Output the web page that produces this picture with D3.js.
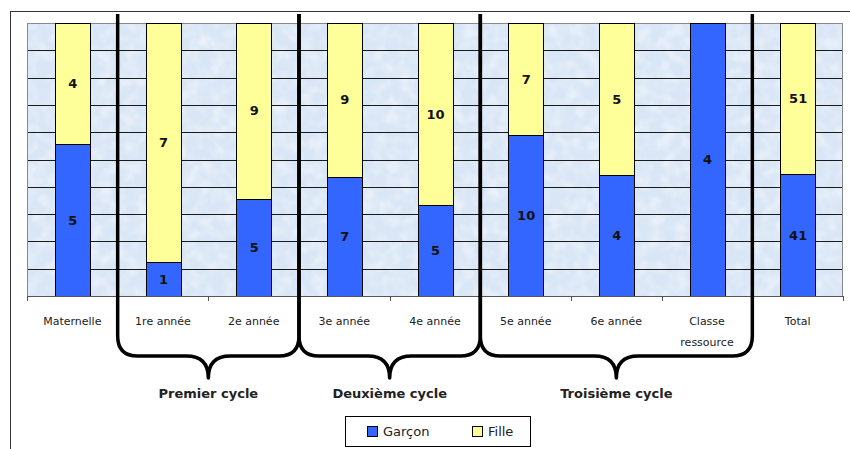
<!DOCTYPE html>
<html>
<head>
<meta charset="utf-8">
<script src="https://cdn.jsdelivr.net/npm/d3@7"></script>
<style>
  html, body { margin: 0; padding: 0; background: #fff; }
  svg { display: block; }
</style>
</head>
<body>
<svg id="chart" width="850" height="449"></svg>
<script>
// ---- data ----
const categories = ["Maternelle", "1re année", "2e année", "3e année", "4e année", "5e année", "6e année", "Classe ressource", "Total"];
const garcon = [5, 1, 5, 7, 5, 10, 4, 4, 41];
const fille = [4, 7, 9, 9, 10, 7, 5, 0, 51];
const seriesNames = ["Garçon", "Fille"];
const cycleLabels = ["Premier cycle", "Deuxième cycle", "Troisième cycle"];
const cycleFirst = ["1re année", "3e année", "5e année"];
const cycleLast = ["2e année", "4e année", "Classe ressource"];
const gridTicks = [0, 0.1, 0.2, 0.3, 0.4, 0.5, 0.6, 0.7, 0.8, 0.9, 1];

// ---- layout ----
const W = 850, H = 449;
const plot = { left: 27, right: 843, top: 23, bottom: 296 };
const colors = { "Garçon": "#3366ff", "Fille": "#ffff99" };
const font = "'DejaVu Sans', Verdana, sans-serif";

const svg = d3.select("#chart");

// outer frame (extends beyond the picture)
svg.append("rect")
  .attr("x", 10.5).attr("y", 11.5)
  .attr("width", W + 20).attr("height", H + 20)
  .attr("fill", "#fff").attr("stroke", "#333").attr("stroke-width", 1);

const pi = 0.614;
const x = d3.scaleBand().domain(categories)
  .range([plot.left, plot.right]).paddingInner(pi).paddingOuter(pi / 2);
const step = x.step();
const y = d3.scaleLinear().domain([0, 1]).range([plot.bottom, plot.top]);

// textured background
const defs = svg.append("defs");
const filt = defs.append("filter").attr("id", "tex")
  .attr("x", 0).attr("y", 0).attr("width", 1).attr("height", 1);
filt.append("feTurbulence").attr("type", "fractalNoise")
  .attr("baseFrequency", 0.08).attr("numOctaves", 2).attr("seed", 3).attr("result", "noise");
filt.append("feColorMatrix").attr("in", "noise").attr("type", "matrix")
  .attr("values", "0 0 0 0 1  0 0 0 0 1  0 0 0 0 1  0 0 0 0.9 -0.35").attr("result", "spots");
filt.append("feComposite").attr("in", "spots").attr("in2", "SourceGraphic").attr("operator", "atop");

svg.append("rect")
  .attr("x", plot.left).attr("y", plot.top)
  .attr("width", plot.right - plot.left).attr("height", plot.bottom - plot.top)
  .attr("fill", "#d9e6f6").attr("filter", "url(#tex)");

// gridlines
svg.append("g").selectAll("line").data(gridTicks).join("line")
  .attr("x1", plot.left).attr("x2", plot.right)
  .attr("y1", d => Math.round(y(d)) + 0.5).attr("y2", d => Math.round(y(d)) + 0.5)
  .attr("stroke", "#1a1a1a").attr("stroke-width", 1);

// plot border
svg.append("rect")
  .attr("x", plot.left + 0.5).attr("y", plot.top + 0.5)
  .attr("width", plot.right - plot.left - 1).attr("height", plot.bottom - plot.top)
  .attr("fill", "none").attr("stroke", "#8a8a8a").attr("stroke-width", 1);

// stacked 100% data
const rows = categories.map((c, i) => {
  const tot = garcon[i] + fille[i];
  return { cat: c, g: garcon[i], f: fille[i], tot };
});

const segs = [];
rows.forEach(r => {
  segs.push({ cat: r.cat, s: "Garçon", v: r.g, y0: 0, y1: r.g / r.tot });
  segs.push({ cat: r.cat, s: "Fille", v: r.f, y0: r.g / r.tot, y1: 1 });
});

const bars = svg.append("g");
bars.selectAll("rect").data(segs.filter(d => d.v > 0)).join("rect")
  .attr("x", d => Math.round(x(d.cat)) + 0.5)
  .attr("width", Math.round(x.bandwidth()))
  .attr("y", d => Math.round(y(d.y1)) + 0.5)
  .attr("height", d => Math.round(y(d.y0)) - Math.round(y(d.y1)))
  .attr("fill", d => colors[d.s])
  .attr("stroke", "#000").attr("stroke-width", 1);

bars.selectAll("text").data(segs.filter(d => d.v > 0)).join("text")
  .attr("x", d => x(d.cat) + x.bandwidth() / 2 + 0.5)
  .attr("y", d => y((d.y0 + d.y1) / 2))
  .attr("dy", "0.36em")
  .attr("text-anchor", "middle")
  .attr("font-family", font).attr("font-weight", "bold").attr("font-size", 13)
  .attr("fill", "#111")
  .text(d => d.v);

// x axis line and ticks
svg.append("line")
  .attr("x1", plot.left).attr("x2", plot.right)
  .attr("y1", plot.bottom + 0.5).attr("y2", plot.bottom + 0.5)
  .attr("stroke", "#555");
const boundaries = categories.map(c => x(c) - step * pi / 2).concat([plot.right]);
svg.append("g").selectAll("line").data(boundaries).join("line")
  .attr("x1", d => Math.round(d) + 0.5).attr("x2", d => Math.round(d) + 0.5)
  .attr("y1", plot.bottom).attr("y2", plot.bottom + 5)
  .attr("stroke", "#555");

// category labels (wrap if too long)
const labG = svg.append("g");
categories.forEach(c => {
  const t = labG.append("text")
    .attr("x", x(c) + x.bandwidth() / 2)
    .attr("y", 325)
    .attr("text-anchor", "middle")
    .attr("font-family", font).attr("font-size", 11)
    .attr("fill", "#222");
  t.text(c);
  if (t.node().getComputedTextLength() > step * 0.9) {
    t.text(null);
    c.split(" ").forEach((w, k) => {
      t.append("tspan").attr("x", x(c) + x.bandwidth() / 2)
        .attr("dy", k === 0 ? 0 : 21).text(w);
    });
  }
});

// cycle braces
const yTop = 14, yBend = 336, yHor = 356, yTip = 378, r = 20;
const braceG = svg.append("g");
cycleLabels.forEach((lab, i) => {
  const x0 = x(cycleFirst[i]) - step * pi / 2;
  const x1 = x(cycleLast[i]) + x.bandwidth() + step * pi / 2;
  const xm = (x0 + x1) / 2;
  const p = d3.path();
  p.moveTo(x0, yTop);
  p.lineTo(x0, yBend);
  p.quadraticCurveTo(x0, yHor, x0 + r, yHor);
  p.lineTo(xm - 22, yHor);
  p.quadraticCurveTo(xm, yHor, xm, yTip);
  p.quadraticCurveTo(xm, yHor, xm + 22, yHor);
  p.lineTo(x1 - r, yHor);
  p.quadraticCurveTo(x1, yHor, x1, yBend);
  p.lineTo(x1, yTop);
  braceG.append("path").attr("d", p.toString())
    .attr("fill", "none").attr("stroke", "#000").attr("stroke-width", 3.5)
    .attr("stroke-linejoin", "round");
  braceG.append("text")
    .attr("x", xm).attr("y", 398)
    .attr("text-anchor", "middle")
    .attr("font-family", font).attr("font-weight", "bold").attr("font-size", 13)
    .attr("fill", "#222")
    .text(lab);
});

// legend
const leg = svg.append("g");
leg.append("rect")
  .attr("x", 345.5).attr("y", 416.5).attr("width", 185).attr("height", 30)
  .attr("fill", "#fff").attr("stroke", "#000");
const legX = [367, 472];
seriesNames.forEach((s, i) => {
  leg.append("rect")
    .attr("x", legX[i] + 0.5).attr("y", 426.5).attr("width", 10).attr("height", 10)
    .attr("fill", colors[s]).attr("stroke", "#000");
  leg.append("text")
    .attr("x", legX[i] + 16).attr("y", 436)
    .attr("font-family", font).attr("font-size", 13)
    .attr("fill", "#222")
    .text(s);
});
</script>
</body>
</html>
